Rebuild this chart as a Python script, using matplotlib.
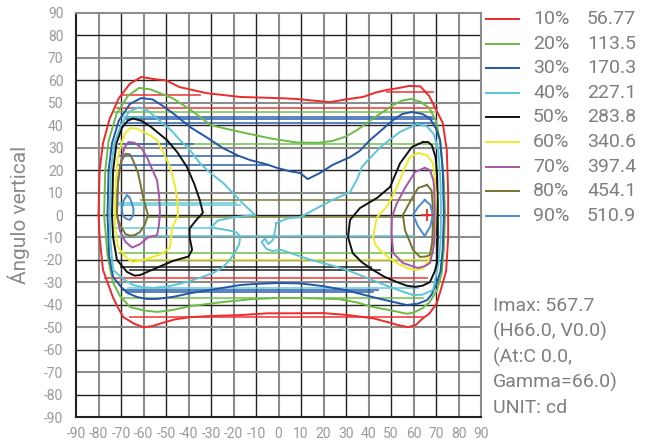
import matplotlib.pyplot as plt
from matplotlib.lines import Line2D

# legend entries
levels = ['10%', '20%', '30%', '40%', '50%', '60%', '70%', '80%', '90%']
values = ['56.77', '113.5', '170.3', '227.1', '283.8', '340.6', '397.4', '454.1', '510.9']
colors = ['#ee2a2a', '#6cbb45', '#2456a8', '#5cc6d6', '#111111', '#eeea2a', '#a655a8', '#75742f', '#4a8ad0']

info = ['Imax: 567.7', '(H66.0, V0.0)', '(At:C 0.0,', 'Gamma=66.0)', 'UNIT: cd']
ticks = list(range(-90, 91, 10))
imax_h, imax_v = 66.0, 0.0

# isocandela curves (H, V)
c10 = [[(-80, 0), (-79.5, 20), (-78, 32), (-75, 43), (-71, 52), (-66, 58.5), (-61, 61.5), (-55, 60.5),
        (-50, 60), (-44, 57), (-32, 54.3), (-17, 52.6), (2, 52), (8, 51.7), (15, 51), (23, 50.3),
        (30, 51.5), (37.6, 52.6), (43, 54.5), (48, 55.7), (53, 56.5), (58, 57.5), (63, 57.3), (67, 53),
        (70, 47), (73, 41), (74.8, 29), (75.4, 10), (75.4, -10), (74.5, -25), (73, -30.3), (70.4, -39.2),
        (67, -44), (64.2, -46), (61, -49), (57.6, -50), (53, -49), (49.6, -48), (42, -46), (30, -44.5),
        (19.8, -43.7), (5, -43.8), (-5, -43.8), (-17, -44.6), (-30, -45), (-39.3, -45.5), (-46, -46.5),
        (-51.3, -48), (-56, -49.5), (-60, -50), (-64, -48.5), (-69, -45.5), (-71.5, -41), (-73.6, -36.6),
        (-76, -30), (-78, -24.5), (-79.5, -10), (-80, 0)]]
c20 = [[(-77.5, 0), (-77, 20), (-75.5, 33), (-72, 45), (-67, 53), (-62, 56.6), (-57, 56), (-54, 54.8),
        (-47, 52), (-39, 46.8), (-30, 40), (-17, 37), (-3, 34), (8, 32.3), (18, 32.2), (24, 33), (30, 35),
        (35, 37.9), (42, 43), (51, 49), (55, 51), (59, 51.7), (63, 50.5), (67, 47.7), (70, 42), (72, 32),
        (73.5, 15), (74, 0), (73.5, -15), (72.5, -26), (70.5, -33.4), (67, -39), (64, -41.5), (60, -43.5),
        (57, -44), (50, -42.5), (42, -41), (35, -39), (27, -37.5), (10, -37), (-1, -37), (-12, -37.5),
        (-25, -38.8), (-39, -40.6), (-48, -42.5), (-54, -43.2), (-60, -42.5), (-66, -41), (-70.5, -36),
        (-73.6, -30), (-76, -18), (-77.5, 0)]]
c30 = [[(-76, 0), (-75.5, 20), (-74, 32), (-71, 42), (-66, 49.5), (-61, 52.1), (-56, 51.5), (-52, 49),
        (-47, 45.4), (-39, 39), (-31, 34), (-24.7, 29.8), (-18, 26.5), (-12.7, 24.5), (-5, 22.5),
        (-0.7, 21), (5, 19.5), (9.6, 18.7), (13, 16), (18.4, 18.7), (24, 22.3), (31.8, 25.8), (36, 28.5),
        (40.7, 33.4), (46, 38), (50.9, 42.3), (55, 45), (59.3, 45.9), (64, 45), (67.3, 43), (70, 38.5),
        (71.8, 33.4), (73, 20), (73.5, 0), (73, -15), (72, -25), (70.4, -30.3), (68, -35.5), (66, -37.9),
        (62, -39.5), (57, -40.1), (50, -38.5), (42, -36.6), (30, -33.5), (19.8, -31.7), (10, -30.5),
        (-0.7, -30.3), (-10, -30.7), (-17, -31.2), (-28, -33), (-39, -34.8), (-47, -36.5), (-54, -37.4),
        (-58.5, -37.4), (-63, -36.5), (-67, -34.8), (-70, -32), (-73.5, -27.6), (-75.3, -18), (-76, 0)]]
c40 = [[(-75, 0), (-74.5, 20), (-73, 32), (-70, 40), (-66.5, 46), (-62, 48), (-58, 46.5), (-54, 43),
        (-48, 38), (-43.8, 33.4), (-39, 28.5), (-34.9, 23), (-30, 18.5), (-24.5, 14.2), (-16, 5.3),
        (-10.4, 0), (-15, -0.5), (-20, -1), (-27, -2.5), (-30, -5.5), (-24, -6.5), (-19, -7.5),
        (-17, -9.5), (-17.5, -13), (-19, -16), (-21.6, -20), (-25, -23.5), (-29, -25.8), (-35, -28),
        (-42.4, -30.3), (-49, -31.8), (-55.8, -32.5), (-61, -32), (-64.7, -31.2), (-69, -28.5),
        (-73.5, -24.5), (-74.7, -12), (-75, 0)],
       [(-1, -3.6), (4, -1.5), (9.6, -1), (17, 3), (24, 6.7), (31.8, 10.2), (35, 16), (37, 21.4), (45, 30),
        (54, 37), (61.5, 40.5), (66, 39.5), (69, 36), (71, 29), (72, 15), (72.2, 0), (72, -12), (71, -22),
        (68.7, -33.4), (64, -35.5), (59.8, -35.7), (52, -33), (45, -30.3), (38, -27.5), (30.4, -24.5),
        (22, -22), (14.4, -20), (7, -17.5), (1.3, -15.6), (-3, -16), (-5.5, -15), (-7.5, -12), (-6, -10.5),
        (-4.5, -13), (-2.4, -11), (-1.5, -7), (-1, -3.6)]]
c50 = [[(-74, 0), (-73.5, 20), (-72, 32), (-69.5, 39), (-67, 42), (-64.7, 43), (-61, 42), (-57, 39.5),
        (-49.6, 33.4), (-45, 28), (-40.7, 21.4), (-37.5, 14), (-35, 6.7), (-33.6, 1), (-36.5, -2.2),
        (-39.5, -6), (-39.5, -10), (-38.4, -15.5), (-40, -18.5), (-47, -20.5), (-54, -23.5),
        (-61.6, -26.8), (-64, -27), (-67.3, -25.4), (-71.8, -20), (-73.5, -10), (-74, 0)],
       [(64.2, 32.5), (59.3, 30.3), (54, 23), (49.6, 12.5), (43.8, 7.6), (36.2, 3.1), (31.8, -2.2),
        (30.9, -9.8), (33, -17), (37, -21), (42, -24.5), (47, -27.5), (52.7, -29.9), (57, -31.5),
        (60.7, -32), (64, -31.5), (67.3, -29.9), (69.5, -25), (70.4, -21.4), (70.8, -10), (70.8, 5),
        (70.5, 18), (69.8, 25.8), (68.2, 31), (66.5, 32.5), (64.2, 32.5)]]
c60 = [[(-72.7, 0), (-72.3, 15), (-71.5, 25), (-69.5, 33), (-68, 36.5), (-66, 38.7), (-63, 38.5),
        (-60, 37), (-57, 35.5), (-54, 33.4), (-51, 27.5), (-48.2, 21.4), (-46, 13), (-45, 6.7),
        (-44.6, 0), (-46, -3), (-47.3, -6), (-47.8, -10), (-48.2, -14.3), (-51.3, -17), (-55.8, -18.7),
        (-60.2, -20), (-64.7, -21), (-67.3, -19.5), (-71.3, -14.3), (-72.5, -7), (-72.7, 0)],
       [(62, 27.6), (58.4, 25.8), (56, 21), (54, 15.6), (51, 9), (48.7, 4.4), (43.8, -1), (42, -9.8),
        (43, -13), (45, -15.6), (49, -19), (52.7, -21.5), (57, -23.5), (60.7, -24.5), (64, -24),
        (66.4, -21), (68.5, -15), (69.6, -6.7), (70, 8), (69.5, 16), (68.7, 23), (66, 26.7), (62, 27.6)]]
c70 = [[(-71.8, 0), (-71.3, 15), (-70, 24), (-68.5, 30), (-66.7, 32.5), (-64, 32.2), (-61, 30),
        (-58.5, 25.8), (-56, 20), (-54, 15.6), (-53, 8), (-52.7, 1), (-53.2, -5), (-54, -9), (-58, -10),
        (-61.6, -13), (-65, -14.5), (-68, -12), (-70.5, -7), (-71.8, 0)],
       [(65, 21), (60.7, 19.2), (56.2, 12), (52.5, 5), (50.4, -1), (50.2, -8), (51, -17), (55.3, -21.4),
        (60, -23), (62, -23.6), (65, -22.8), (67.3, -21.4), (68.6, -16), (69.2, -12.5), (69.4, 3.5),
        (69.2, 12), (68.8, 15.6), (67.3, 20), (65, 21)]]
c80 = [[(-71.8, 0), (-71.6, 10), (-71, 18), (-69.8, 24), (-68, 27.3), (-66, 27), (-64.7, 24.5),
        (-62.4, 18.7), (-61, 12), (-60.2, 8), (-58, 0), (-59.5, -4.5), (-61.6, -7.6), (-64, -9),
        (-66, -9.2), (-68, -8.5), (-69.5, -6), (-71, -3), (-71.8, 0)],
       [(66, 13.4), (62, 12), (58.5, 6), (55.3, 0), (56.2, -6.7), (58, -11), (59.8, -15.6), (62.9, -18.7),
        (65.5, -18.5), (67.3, -17.8), (68.3, -12), (68.6, -5), (68.5, 5), (68, 11), (66, 13.4)]]
c90 = [[(-69.6, 3.1), (-68.8, 6.5), (-67.3, 8.9), (-66, 7.5), (-64.5, 3), (-64.5, 0), (-66, -2.2),
        (-68, -1.5), (-69.3, 0), (-69.6, 3.1)],
       [(65, 6.7), (62, 3.5), (59.8, 0), (62, -5), (65, -9.4), (67.5, -5), (68.6, 0), (67.5, 4.5), (65, 6.7)]]
curves = [c10, c20, c30, c40, c50, c60, c70, c80, c90]

# horizontal closing segments of each level: (V, H from, H to)
h10 = [(53.5, -69, -35), (54.8, 48, 68.7), (47.7, -72, 70.4), (-28, -77, 66), (-45.5, -66, 64)]
h20 = [(46, -73, 69), (31.5, -71, 71), (-17, -71, 69), (-37.2, -69, 64)]
h30 = [(43.7, -68, 68), (42.8, -68, 69), (41, -70, 70), (31.6, -71, -38), (26.3, -71, -18),
       (22.3, -71, -5), (-33.4, -69, 44), (-34.3, -68, 42)]
h40 = [(43.6, -70, -55), (5.5, -72, -19), (4.5, -72, -17), (-5.8, -73, -30), (-9.4, -72, 60),
       (-32.5, -67, 62)]
h50 = [(-23, -70, 41), (-24.5, -66, 45)]
h60 = [(-20, -66, 67)]
h70 = []
h80 = [(6.7, -61, 60), (-1, -58, 55.5)]
h90 = []
chords = [h10, h20, h30, h40, h50, h60, h70, h80, h90]

plt.rcParams['font.family'] = ['Roboto', 'DejaVu Sans']
fig = plt.figure(figsize=(6.51, 4.40), dpi=100)
ax = fig.add_axes([76 / 651, 23 / 440, 405 / 651, 404 / 440])
ax.set_xlim(-90, 90)
ax.set_ylim(-90, 90)

# grid, alternating dark and grey lines
for i, t in enumerate(ticks[1:-1]):
    c = '#8c8c8c' if i % 2 == 0 else '#222222'
    lw = 1.5 if i % 2 == 0 else 1.0
    ax.axvline(t, color=c, lw=lw, zorder=1)
for i, t in enumerate(ticks[1:-1]):
    c = '#222222' if i % 2 == 0 else '#8c8c8c'
    lw = 1.0 if i % 2 == 0 else 1.5
    ax.axhline(t, color=c, lw=lw, zorder=1)

for curve_set, seg_set, col in zip(curves, chords, colors):
    for seg in seg_set:
        ax.plot([seg[1], seg[2]], [seg[0], seg[0]], color=col, lw=1.3, alpha=0.8, zorder=2)
    for pts in curve_set:
        ax.plot([p[0] for p in pts], [p[1] for p in pts], color=col, lw=1.4, zorder=3)

ax.plot(imax_h, imax_v, marker='+', color='#ee2a2a', ms=8, mew=1.3, zorder=4)

ax.set_xticks(ticks)
ax.set_yticks(ticks)
ax.set_xticklabels([str(t) for t in ticks])
ax.set_yticklabels([str(t) for t in ticks])
ax.tick_params(length=0, labelsize=10, labelcolor='#9a9a9a', pad=7)
ax.tick_params(axis='y', pad=9)
for s in ax.spines.values():
    s.set_color('#8c8c8c')
    s.set_linewidth(1.5)
ax.spines['left'].set_color('#222222')
ax.spines['bottom'].set_color('#222222')
ax.set_ylabel('Ángulo vertical', fontsize=15, color='#8a8a8a', labelpad=10)

# legend at right
for i, (lv, val, col) in enumerate(zip(levels, values, colors)):
    yy = 1 - (19 + 24.6 * i) / 440
    fig.add_artist(Line2D([486 / 651, 519 / 651], [yy, yy], color=col, lw=1.4))
    fig.text(533 / 651, yy, lv, fontsize=14, color='#7f7f7f', va='center')
    fig.text(587 / 651, yy, val, fontsize=14, color='#7f7f7f', va='center')

for i, line in enumerate(info):
    fig.text(493 / 651, 1 - (306 + 25.5 * i) / 440, line, fontsize=14, color='#7f7f7f', va='center')

fig.savefig('out.png', dpi=100)
